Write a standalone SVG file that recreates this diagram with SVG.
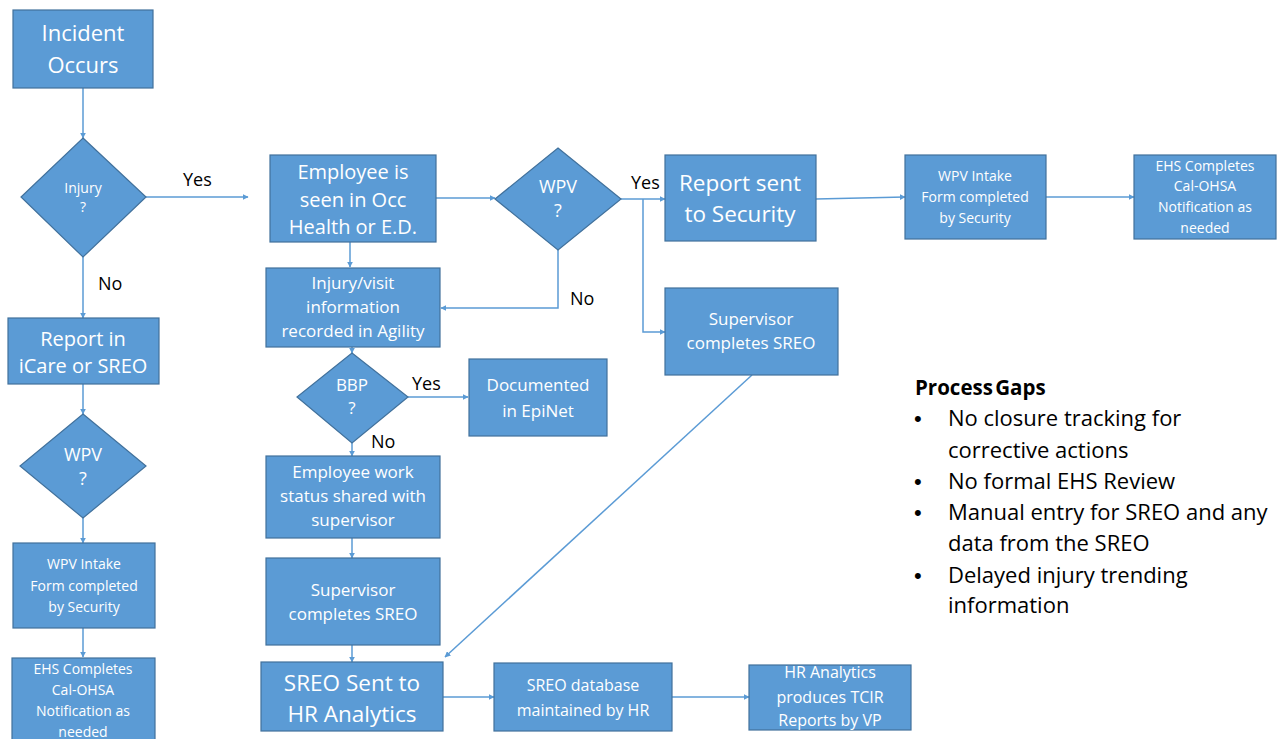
<svg xmlns="http://www.w3.org/2000/svg" width="1281" height="739" viewBox="0 0 1281 739">
<style>
.n{fill:#5b9bd5;stroke:#41719c;stroke-width:1.2}
.t{font-family:'Open Sans','Liberation Sans',sans-serif;fill:#ffffff;text-anchor:middle}
.l{font-family:'Open Sans','Liberation Sans',sans-serif;fill:#000000}
.c{stroke:#5b9bd5;stroke-width:1.5;fill:none;marker-end:url(#a)}
.b{font-family:'Liberation Sans',sans-serif;font-size:22px}
</style>
<defs>
<marker id="a" viewBox="0 0 10 10" refX="9" refY="5" markerWidth="6" markerHeight="6" orient="auto" markerUnits="userSpaceOnUse"><path d="M0,0 L10,5 L0,10 z" fill="#5b9bd5"/></marker>
</defs>
<rect width="1281" height="739" fill="#ffffff"/>
<g id="connectors">
<path class="c" d="M83,88 V138"/>
<path class="c" d="M146,197 H248"/>
<path class="c" d="M83,257 V318"/>
<path class="c" d="M83,384 V414"/>
<path class="c" d="M83,518 V543"/>
<path class="c" d="M83,628 V657"/>
<path class="c" d="M436,198 H495"/>
<path class="c" d="M621,199 H665"/>
<path class="c" d="M643,199 V332 H665"/>
<path class="c" d="M558,250 V308 H441"/>
<path class="c" d="M350,242 V267"/>
<path class="c" d="M352,347 V353"/>
<path class="c" d="M408,397 H468"/>
<path class="c" d="M352,443 V456"/>
<path class="c" d="M352,538 V558"/>
<path class="c" d="M352,645 V662"/>
<path class="c" d="M752,375 L445,657"/>
<path class="c" d="M443,697 H494"/>
<path class="c" d="M672,697 H749"/>
<path class="c" d="M816,199 L905,197"/>
<path class="c" d="M1046,197 H1134"/>
</g>
<g id="incident"><rect class="n" x="13" y="10" width="140" height="78"/><text class="t" font-size="22"><tspan x="83" y="41">Incident</tspan><tspan x="83" y="73">Occurs</tspan></text></g>
<g id="injury"><polygon class="n" points="83,138 146,197 83,257 21,197"/><text class="t" font-size="14"><tspan x="83" y="193">Injury</tspan><tspan x="83" y="212">?</tspan></text></g>
<g id="report-icare"><rect class="n" x="8" y="318" width="151" height="66"/><text class="t" font-size="20"><tspan x="83" y="346">Report in</tspan><tspan x="83" y="373">iCare or SREO</tspan></text></g>
<g id="wpv-left"><polygon class="n" points="83,414 146,466 83,518 20,466"/><text class="t" font-size="18"><tspan x="83" y="461">WPV</tspan><tspan x="83" y="485">?</tspan></text></g>
<g id="wpv-intake-left"><rect class="n" x="13" y="543" width="142" height="85"/><text class="t" font-size="14"><tspan x="84" y="569">WPV Intake</tspan><tspan x="84" y="591">Form  completed</tspan><tspan x="84" y="612">by Security</tspan></text></g>
<g id="ehs-left"><rect class="n" x="12" y="658" width="143" height="90"/><text class="t" font-size="14"><tspan x="83" y="674">EHS Completes</tspan><tspan x="83" y="695">Cal-OHSA</tspan><tspan x="83" y="716">Notification as</tspan><tspan x="83" y="737">needed</tspan></text></g>
<g id="employee-seen"><rect class="n" x="270" y="155" width="166" height="87"/><text class="t" font-size="20"><tspan x="353" y="179">Employee is</tspan><tspan x="353" y="207">seen in Occ</tspan><tspan x="353" y="234">Health or E.D.</tspan></text></g>
<g id="wpv-mid"><polygon class="n" points="558,148 621,199 558,250 495,199"/><text class="t" font-size="18"><tspan x="558" y="193">WPV</tspan><tspan x="558" y="217">?</tspan></text></g>
<g id="injury-visit"><rect class="n" x="266" y="268" width="174" height="79"/><text class="t" font-size="17"><tspan x="353" y="289">Injury/visit</tspan><tspan x="353" y="313">information</tspan><tspan x="353" y="337">recorded in Agility</tspan></text></g>
<g id="bbp"><polygon class="n" points="352,353 408,397 352,443 297,397"/><text class="t" font-size="17"><tspan x="352" y="391">BBP</tspan><tspan x="352" y="414">?</tspan></text></g>
<g id="epinet"><rect class="n" x="469" y="359" width="138" height="77"/><text class="t" font-size="17"><tspan x="538" y="391">Documented</tspan><tspan x="538" y="417">in EpiNet</tspan></text></g>
<g id="work-status"><rect class="n" x="266" y="456" width="174" height="82"/><text class="t" font-size="17"><tspan x="353" y="478">Employee work</tspan><tspan x="353" y="502">status shared with</tspan><tspan x="353" y="526">supervisor</tspan></text></g>
<g id="supervisor-mid"><rect class="n" x="266" y="558" width="174" height="87"/><text class="t" font-size="17"><tspan x="353" y="596">Supervisor</tspan><tspan x="353" y="620">completes SREO</tspan></text></g>
<g id="sreo-sent"><rect class="n" x="261" y="662" width="182" height="69"/><text class="t" font-size="22.5"><tspan x="352" y="691">SREO Sent to</tspan><tspan x="352" y="722">HR Analytics</tspan></text></g>
<g id="sreo-db"><rect class="n" x="494" y="663" width="178" height="68"/><text class="t" font-size="16"><tspan x="583" y="691">SREO database</tspan><tspan x="583" y="716">maintained by HR</tspan></text></g>
<g id="hr-tcir"><rect class="n" x="749" y="665" width="162" height="65"/><text class="t" font-size="16"><tspan x="830" y="678">HR Analytics</tspan><tspan x="830" y="703">produces TCIR</tspan><tspan x="830" y="726">Reports by VP</tspan></text></g>
<g id="report-security"><rect class="n" x="665" y="155" width="151" height="86"/><text class="t" font-size="22.5"><tspan x="740" y="191">Report sent</tspan><tspan x="740" y="222">to Security</tspan></text></g>
<g id="wpv-intake-right"><rect class="n" x="905" y="155" width="141" height="84"/><text class="t" font-size="14"><tspan x="975" y="181">WPV Intake</tspan><tspan x="975" y="202">Form  completed</tspan><tspan x="975" y="223">by Security</tspan></text></g>
<g id="ehs-right"><rect class="n" x="1134" y="155" width="142" height="84"/><text class="t" font-size="14"><tspan x="1205" y="171">EHS Completes</tspan><tspan x="1205" y="191">Cal-OHSA</tspan><tspan x="1205" y="212">Notification as</tspan><tspan x="1205" y="233">needed</tspan></text></g>
<g id="supervisor-right"><rect class="n" x="665" y="288" width="173" height="87"/><text class="t" font-size="17"><tspan x="751" y="325">Supervisor</tspan><tspan x="751" y="349">completes SREO</tspan></text></g>
<g id="labels">
<text class="l" font-size="18" x="183" y="186">Yes</text>
<text class="l" font-size="18" x="98" y="290">No</text>
<text class="l" font-size="18" x="631" y="189">Yes</text>
<text class="l" font-size="18" x="570" y="305">No</text>
<text class="l" font-size="18" x="412" y="390">Yes</text>
<text class="l" font-size="18" x="371" y="448">No</text>
</g>
<g id="process-gaps" font-family="'Open Sans','Liberation Sans',sans-serif" fill="#000000">
<text x="915" y="395" font-size="20.5" font-weight="bold" word-spacing="-3">Process Gaps</text>
<g font-size="22">
<text class="b" x="914" y="426">•</text><text x="948" y="426">No closure tracking for</text>
<text x="948" y="458">corrective actions</text>
<text class="b" x="914" y="489">•</text><text x="948" y="489">No formal EHS Review</text>
<text class="b" x="914" y="520">•</text><text x="948" y="520">Manual entry for SREO and any</text>
<text x="948" y="551">data from the SREO</text>
<text class="b" x="914" y="583">•</text><text x="948" y="583">Delayed injury trending</text>
<text x="948" y="613">information</text>
</g>
</g>
</svg>
